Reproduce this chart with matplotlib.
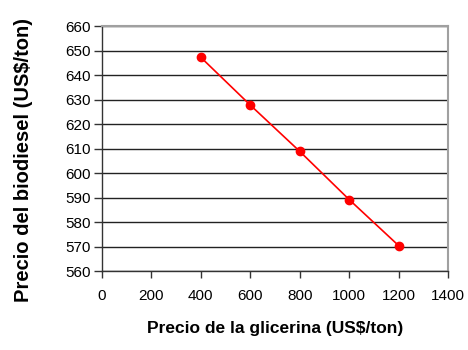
import matplotlib
matplotlib.use("Agg")
import matplotlib.pyplot as plt

glicerina = [400, 600, 800, 1000, 1200]
biodiesel = [647.3, 627.8, 608.9, 589.2, 570.4]
xticks = [0, 200, 400, 600, 800, 1000, 1200, 1400]
yticks = [560, 570, 580, 590, 600, 610, 620, 630, 640, 650, 660]

plt.rcParams['font.family'] = ['Liberation Sans', 'DejaVu Sans']

fig = plt.figure(figsize=(4.68, 3.5), dpi=100)
ax = fig.add_axes([102/468, 1-271/350, (448-102)/468, (271-26.3)/350])

ax.plot(glicerina, biodiesel, color='#ff0000', lw=1.2, marker='o', ms=6, zorder=3)

ax.set_xlim(0, 1400)
ax.set_ylim(560, 660)
ax.set_xticks(xticks)
ax.set_yticks(yticks)
ax.yaxis.grid(True, color='#222222', lw=1)
ax.set_axisbelow(True)

for s in ['top', 'right']:
    ax.spines[s].set_color('#a0a0a0')
    ax.spines[s].set_linewidth(1.5)
for s in ['left', 'bottom']:
    ax.spines[s].set_color('#333333')
    ax.spines[s].set_linewidth(1)

ax.tick_params(axis='y', direction='out', length=6, width=1, color='#333333', labelsize=11, pad=2)
ax.tick_params(axis='x', direction='out', length=5, width=1, color='#333333', labelsize=11, pad=8)

ax.set_xlabel('Precio de la glicerina (US$/ton)', fontsize=12.5, fontweight='bold', labelpad=13)
fig.text(24/468, 1-160/350, 'Precio del biodiesel (US$/ton)', fontsize=14.5, fontweight='bold',
         rotation=90, ha='center', va='center')

fig.savefig('out.png', dpi=100)
